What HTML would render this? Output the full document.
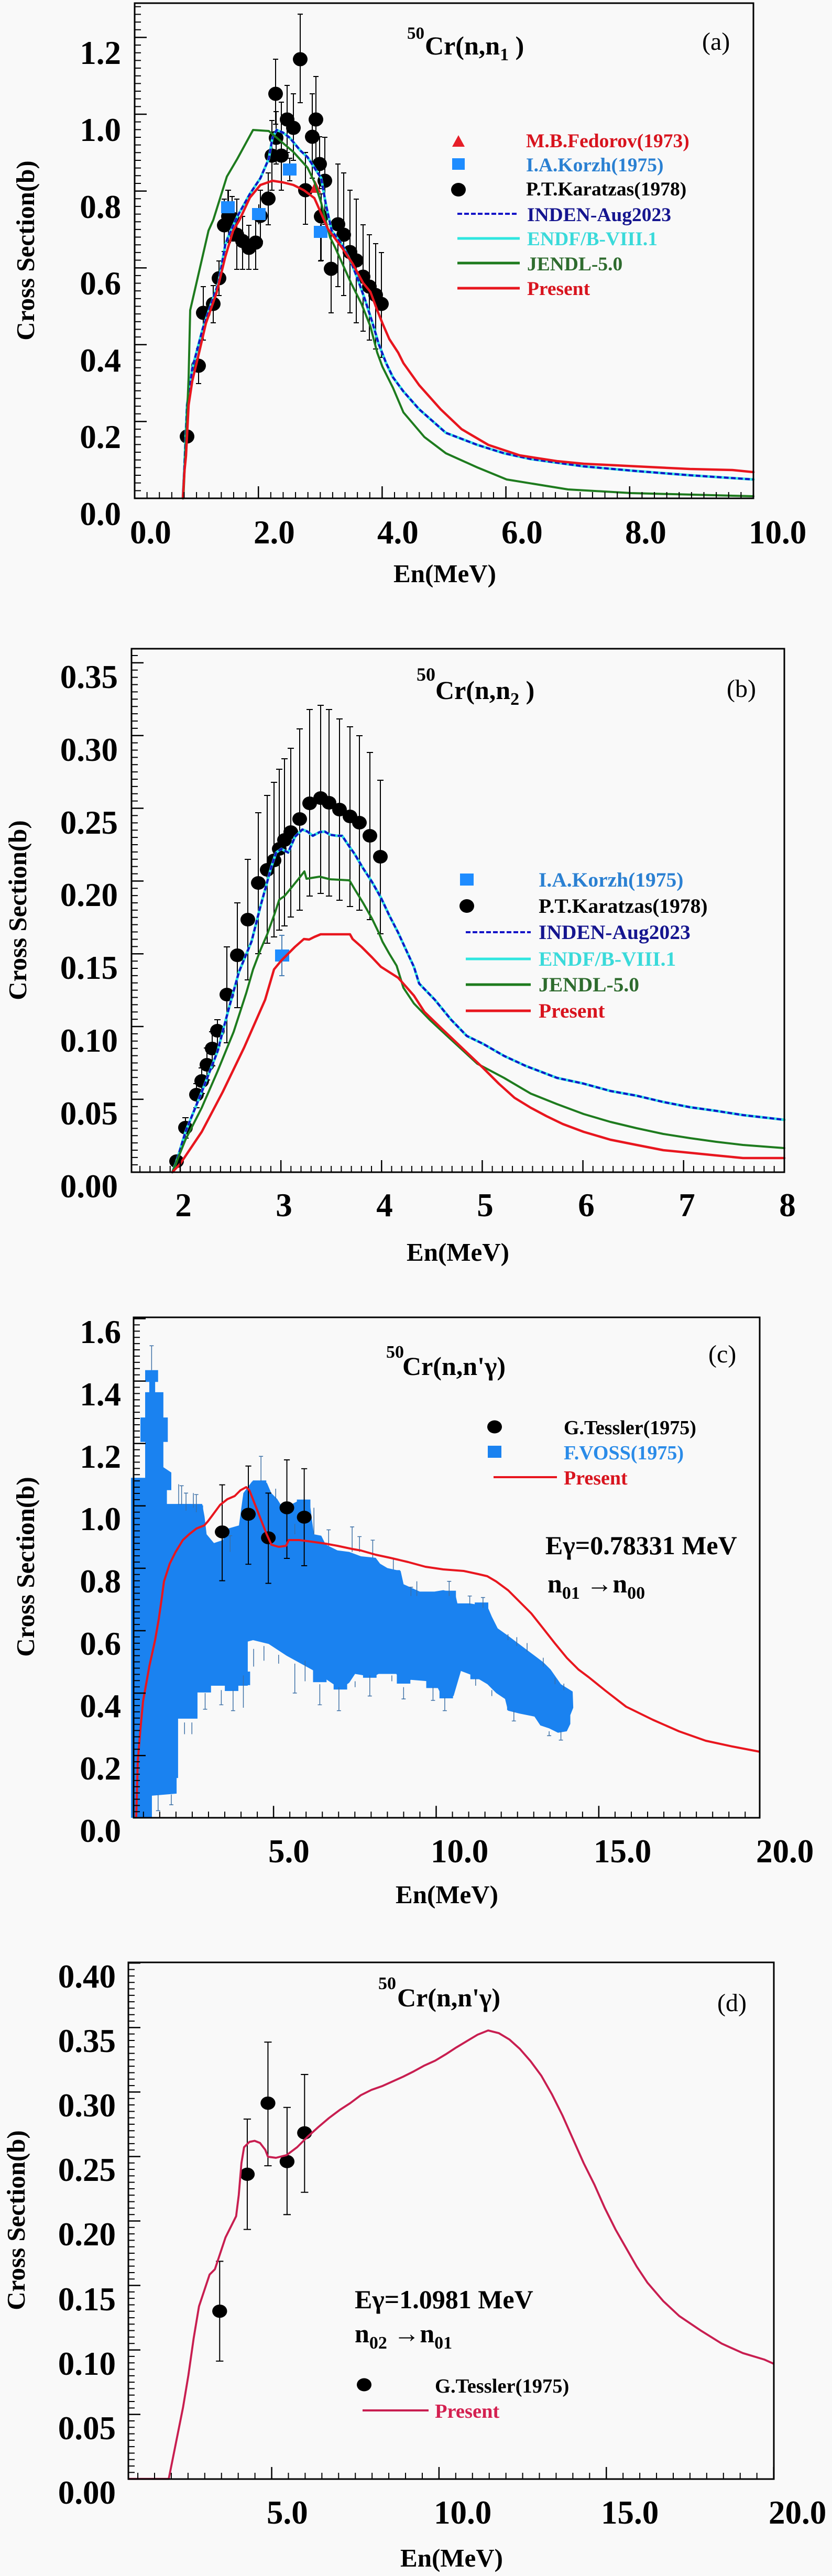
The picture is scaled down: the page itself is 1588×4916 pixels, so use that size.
<!DOCTYPE html>
<html><head><meta charset="utf-8"><style>
html,body{margin:0;padding:0;background:#f9f9f9;}
svg{display:block;}
text{font-family:"Liberation Serif","DejaVu Serif",serif;font-weight:bold;}
</style></head><body>
<svg width="1588" height="4916" viewBox="0 0 1588 4916" xmlns="http://www.w3.org/2000/svg">
<rect width="1588" height="4916" fill="#f9f9f9"/>

<!-- ================= PANEL (a) ================= -->
<g stroke="#000" stroke-width="2" fill="none">
<path d="M379,665V732M374,665h10M374,732h10M388,547V649M383,547h10M383,649h10M407,545V616M402,545h10M402,616h10M418,498V564M413,498h10M413,564h10M428,380V480M423,380h10M423,480h10M436,363V463M431,363h10M431,463h10M443,375V460M438,375h10M438,460h10M452,380V514M447,380h10M447,514h10M463,413V514M458,413h10M458,514h10M475,430V514M470,430h10M470,514h10M488,413V514M483,413h10M483,514h10M497,363V460M492,363h10M492,460h10M512,330V429M507,330h10M507,429h10M519,230V363M514,230h10M514,363h10M527,213V313M522,213h10M522,313h10M537,195V363M532,195h10M532,363h10M526,113V237M521,113h10M521,237h10M548,163V291M543,163h10M543,291h10M560,179V306M555,179h10M555,306h10M573,27V196M568,27h10M568,196h10M583,291V428M578,291h10M578,428h10M596,179V340M591,179h10M591,340h10M603,146V306M598,146h10M598,306h10M610,261V360M605,261h10M605,360h10M620,262V428M615,262h10M615,428h10M613,370V497M608,370h10M608,497h10M632,428V597M627,428h10M627,597h10M645,313V547M640,313h10M640,547h10M656,330V564M651,330h10M651,564h10M668,363V597M663,363h10M663,597h10M680,380V616M675,380h10M675,616h10M693,429V632M688,429h10M688,632h10M705,448V649M700,448h10M700,649h10M717,465V666M712,465h10M712,666h10M728,482V682M723,482h10M723,682h10"/>
<path d="M435,363V425M430,363h10M430,425h10M494,390V428M553,302V345M548,302h10M548,345h10M612,428V498M607,498h10"/>
</g>
<g fill="#000">
<ellipse cx="357" cy="833" rx="14" ry="13.5"/><ellipse cx="379" cy="698" rx="14" ry="13.5"/><ellipse cx="388" cy="597" rx="14" ry="13.5"/><ellipse cx="407" cy="580" rx="14" ry="13.5"/><ellipse cx="418" cy="531" rx="14" ry="13.5"/><ellipse cx="428" cy="430" rx="14" ry="13.5"/><ellipse cx="436" cy="413" rx="14" ry="13.5"/><ellipse cx="443" cy="417" rx="14" ry="13.5"/><ellipse cx="452" cy="448" rx="14" ry="13.5"/><ellipse cx="463" cy="460" rx="14" ry="13.5"/><ellipse cx="475" cy="473" rx="14" ry="13.5"/><ellipse cx="488" cy="463" rx="14" ry="13.5"/><ellipse cx="497" cy="412" rx="14" ry="13.5"/><ellipse cx="512" cy="379" rx="14" ry="13.5"/><ellipse cx="519" cy="297" rx="14" ry="13.5"/><ellipse cx="527" cy="263" rx="14" ry="13.5"/><ellipse cx="537" cy="297" rx="14" ry="13.5"/><ellipse cx="526" cy="179" rx="14" ry="13.5"/><ellipse cx="548" cy="228" rx="14" ry="13.5"/><ellipse cx="560" cy="244" rx="14" ry="13.5"/><ellipse cx="573" cy="113" rx="14" ry="13.5"/><ellipse cx="583" cy="363" rx="14" ry="13.5"/><ellipse cx="596" cy="261" rx="14" ry="13.5"/><ellipse cx="603" cy="228" rx="14" ry="13.5"/><ellipse cx="610" cy="313" rx="14" ry="13.5"/><ellipse cx="620" cy="345" rx="14" ry="13.5"/><ellipse cx="613" cy="413" rx="14" ry="13.5"/><ellipse cx="632" cy="513" rx="14" ry="13.5"/><ellipse cx="645" cy="428" rx="14" ry="13.5"/><ellipse cx="656" cy="448" rx="14" ry="13.5"/><ellipse cx="668" cy="481" rx="14" ry="13.5"/><ellipse cx="680" cy="497" rx="14" ry="13.5"/><ellipse cx="693" cy="528" rx="14" ry="13.5"/><ellipse cx="705" cy="547" rx="14" ry="13.5"/><ellipse cx="717" cy="563" rx="14" ry="13.5"/><ellipse cx="728" cy="580" rx="14" ry="13.5"/>
</g>
<g fill="#1e8cff">
<rect x="422" y="384" width="26" height="23"/><rect x="481" y="397" width="26" height="23"/><rect x="540" y="312" width="26" height="23"/><rect x="599" y="431" width="26" height="23"/>
</g>
<polygon points="591,368 613,368 602,345" fill="#e61e28"/>
<g fill="none" stroke-linejoin="round" stroke-linecap="round">
<path stroke="#2fe6e0" stroke-width="5" d="M349,951 L352,890 L357,773 L367,703 L387,627 L403,580 L417,540 L430,467 L435,453 L453,413 L477,370 L497,340 L513,303 L520,263 L528,248 L540,253 L553,263 L573,287 L587,300 L600,320 L613,340 L622,390 L633,440 L653,467 L670,500 L683,533 L697,573 L710,613 L723,657 L737,693 L750,720 L770,747 L800,781 L851,826 L911,849 L962,865 L1013,876 L1114,890 L1215,899 L1317,907 L1438,915"/>
<path stroke="#1414c8" stroke-width="4" stroke-dasharray="9 4.5" stroke-linecap="butt" d="M349,951 L352,890 L357,773 L367,703 L387,627 L403,580 L417,540 L430,467 L435,453 L453,413 L477,370 L497,340 L513,303 L520,263 L528,248 L540,253 L553,263 L573,287 L587,300 L600,320 L613,340 L622,390 L633,440 L653,467 L670,500 L683,533 L697,573 L710,613 L723,657 L737,693 L750,720 L770,747 L800,781 L851,826 L911,849 L962,865 L1013,876 L1114,890 L1215,899 L1317,907 L1438,915"/>
<path stroke="#1e7b1e" stroke-width="4" d="M350,951 L355,840 L360,720 L363,592 L375,540 L398,440 L407,420 L433,337 L453,303 L483,248 L513,250 L533,267 L560,290 L587,320 L600,347 L613,387 L630,453 L640,473 L670,540 L690,580 L707,623 L720,673 L730,700 L750,740 L770,787 L810,834 L851,865 L911,892 L967,915 L1084,934 L1205,941 L1438,947"/>
<path stroke="#e8161e" stroke-width="4.5" d="M349,951 L352,900 L355,870 L360,773 L367,727 L380,673 L393,617 L413,560 L430,490 L445,440 L457,420 L477,377 L497,353 L520,345 L540,348 L560,353 L580,363 L600,378 L612,405 L626,437 L653,473 L673,503 L693,540 L707,557 L720,592 L730,617 L743,647 L760,673 L770,693 L800,735 L841,781 L881,819 L932,849 L992,869 L1063,880 L1114,885 L1215,890 L1317,895 L1398,897 L1438,901"/>
</g>
<g stroke="#000" fill="none">
<path d="M263,952V6" stroke-width="12" stroke-dasharray="2 12.66"/>
<path d="M268.5,952.25V6" stroke-width="23" stroke-dasharray="2.5 144.1"/>
<path d="M256,945H1438" stroke-width="12" stroke-dasharray="2 21.62"/>
<path d="M255.75,939.5H1440" stroke-width="23" stroke-dasharray="2.5 233.7"/>
<rect x="257" y="6" width="1181" height="945" stroke-width="3"/>
</g>
<g font-size="63" text-anchor="end">
<text x="231" y="1002">0.0</text><text x="231" y="855">0.2</text><text x="231" y="709">0.4</text><text x="231" y="562">0.6</text><text x="231" y="416">0.8</text><text x="231" y="269">1.0</text><text x="231" y="122">1.2</text>
</g>
<g font-size="63">
<text x="248" y="1037">0.0</text><text x="484" y="1037">2.0</text><text x="720" y="1037">4.0</text><text x="957" y="1037">6.0</text><text x="1193" y="1037">8.0</text><text x="1429" y="1037">10.0</text>
</g>
<text x="849" y="1111" font-size="49" text-anchor="middle">En(MeV)</text>
<text transform="translate(65,478) rotate(-90)" font-size="49" text-anchor="middle">Cross Section(b)</text>
<text x="777" y="74" font-size="33">50</text>
<text x="811" y="104" font-size="50">Cr(n,n<tspan font-size="34" dy="11">1</tspan><tspan dy="-11">&#160;)</tspan></text>
<text x="1340" y="95" font-size="48" style="font-weight:normal">(a)</text>
<!-- legend a -->
<polygon points="863,280 887,280 875,258" fill="#e61e28"/>
<rect x="863" y="302" width="24" height="22" fill="#1e8cff"/>
<ellipse cx="875" cy="362" rx="14" ry="13" fill="#000"/>
<path d="M873,408H988" stroke="#1414c8" stroke-width="4" stroke-dasharray="9 4"/>
<path d="M873,455H992" stroke="#2fe6e0" stroke-width="5"/>
<path d="M873,502H992" stroke="#1e7b1e" stroke-width="5"/>
<path d="M873,550H992" stroke="#e8161e" stroke-width="5"/>
<g font-size="37.5">
<text x="1004" y="281" fill="#d8141e">M.B.Fedorov(1973)</text>
<text x="1004" y="327" fill="#2a80d2">I.A.Korzh(1975)</text>
<text x="1004" y="373" fill="#000">P.T.Karatzas(1978)</text>
<text x="1006" y="422" fill="#15158f">INDEN-Aug2023</text>
<text x="1006" y="468" fill="#3adada">ENDF/B-VIII.1</text>
<text x="1006" y="516" fill="#2e6b2e">JENDL-5.0</text>
<text x="1006" y="563" fill="#d8141e">Present</text>
</g>

<!-- ================= PANEL (b) ================= -->
<g stroke="#000" stroke-width="2" fill="none">
<path d="M354,2133V2172M348,2133h12M348,2172h12M375,2068V2114M369,2068h12M369,2114h12M385,2038V2087M379,2038h12M379,2087h12M395,2000V2061M389,2000h12M389,2061h12M405,1969V2034M399,1969h12M399,2034h12M415,1946V1996M409,1946h12M409,1996h12M433,1807V1990M427,1807h12M427,1990h12M453,1723V1923M447,1723h12M447,1923h12M473,1640V1870M467,1640h12M467,1870h12M493,1551V1820M487,1551h12M487,1820h12M510,1518V1800M504,1518h12M504,1800h12M523,1493V1788M517,1493h12M517,1788h12M533,1468V1775M527,1468h12M527,1775h12M543,1448V1767M537,1448h12M537,1767h12M555,1428V1750M549,1428h12M549,1750h12M572,1391V1737M566,1391h12M566,1737h12M591,1354V1710M585,1354h12M585,1710h12M612,1346V1705M606,1346h12M606,1705h12M628,1354V1710M622,1354h12M622,1710h12M648,1372V1718M642,1372h12M642,1718h12M668,1387V1730M662,1387h12M662,1730h12M686,1404V1737M680,1404h12M680,1737h12M706,1436V1755M700,1436h12M700,1755h12M726,1489V1782M720,1489h12M720,1782h12"/>
<path stroke="#4a7fb5" d="M538,1785V1862M533,1785h10M533,1862h10"/>
</g>
<g fill="#000">
<ellipse cx="337" cy="2216" rx="14" ry="13"/><ellipse cx="354" cy="2152" rx="14" ry="13"/><ellipse cx="375" cy="2089" rx="14" ry="13"/><ellipse cx="385" cy="2063" rx="14" ry="13"/><ellipse cx="395" cy="2032" rx="14" ry="13"/><ellipse cx="405" cy="2001" rx="14" ry="13"/><ellipse cx="415" cy="1967" rx="14" ry="13"/><ellipse cx="433" cy="1898" rx="14" ry="13"/><ellipse cx="453" cy="1823" rx="14" ry="13"/><ellipse cx="473" cy="1755" rx="14" ry="13"/><ellipse cx="493" cy="1685" rx="14" ry="13"/><ellipse cx="510" cy="1660" rx="14" ry="13"/><ellipse cx="523" cy="1642" rx="14" ry="13"/><ellipse cx="533" cy="1620" rx="14" ry="13"/><ellipse cx="543" cy="1603" rx="14" ry="13"/><ellipse cx="555" cy="1588" rx="14" ry="13"/><ellipse cx="572" cy="1563" rx="14" ry="13"/><ellipse cx="591" cy="1533" rx="14" ry="13"/><ellipse cx="612" cy="1523" rx="14" ry="13"/><ellipse cx="628" cy="1532" rx="14" ry="13"/><ellipse cx="648" cy="1545" rx="14" ry="13"/><ellipse cx="668" cy="1558" rx="14" ry="13"/><ellipse cx="686" cy="1570" rx="14" ry="13"/><ellipse cx="706" cy="1595" rx="14" ry="13"/><ellipse cx="726" cy="1635" rx="14" ry="13"/>
</g>
<rect x="525" y="1812" width="27" height="23" fill="#1e8cff"/>
<g fill="none" stroke-linejoin="round" stroke-linecap="round">
<path stroke="#2fe6e0" stroke-width="5" d="M329,2237 L337,2216 L354,2160 L385,2084 L415,2007 L435,1931 L456,1855 L480,1797 L497,1730 L510,1683 L517,1657 L527,1627 L537,1620 L550,1627 L563,1597 L577,1583 L587,1587 L597,1595 L610,1588 L620,1587 L630,1593 L643,1595 L653,1595 L663,1610 L677,1630 L693,1657 L710,1683 L727,1713 L743,1747 L760,1780 L777,1817 L790,1845 L800,1877 L830,1908 L861,1946 L891,1977 L922,1992 L962,2015 L1003,2034 L1063,2057 L1114,2068 L1165,2082 L1215,2091 L1266,2103 L1317,2113 L1367,2120 L1418,2128 L1497,2137"/>
<path stroke="#1414c8" stroke-width="4" stroke-dasharray="9 4.5" stroke-linecap="butt" d="M329,2237 L337,2216 L354,2160 L385,2084 L415,2007 L435,1931 L456,1855 L480,1797 L497,1730 L510,1683 L517,1657 L527,1627 L537,1620 L550,1627 L563,1597 L577,1583 L587,1587 L597,1595 L610,1588 L620,1587 L630,1593 L643,1595 L653,1595 L663,1610 L677,1630 L693,1657 L710,1683 L727,1713 L743,1747 L760,1780 L777,1817 L790,1845 L800,1877 L830,1908 L861,1946 L891,1977 L922,1992 L962,2015 L1003,2034 L1063,2057 L1114,2068 L1165,2082 L1215,2091 L1266,2103 L1317,2113 L1367,2120 L1418,2128 L1497,2137"/>
<path stroke="#1e7b1e" stroke-width="4" d="M329,2237 L354,2175 L385,2114 L415,2045 L446,1969 L470,1895 L483,1850 L497,1813 L510,1783 L523,1747 L533,1717 L543,1710 L557,1693 L570,1677 L581,1663 L585,1677 L610,1673 L630,1678 L667,1680 L677,1697 L693,1723 L710,1753 L723,1780 L730,1797 L743,1820 L757,1843 L770,1885 L790,1915 L820,1946 L861,1984 L911,2030 L962,2057 L1013,2087 L1063,2107 L1114,2126 L1165,2141 L1215,2153 L1266,2164 L1317,2172 L1367,2179 L1418,2185 L1497,2191"/>
<path stroke="#e8161e" stroke-width="4.5" d="M329,2237 L344,2221 L385,2160 L425,2084 L466,1999 L506,1908 L523,1850 L537,1833 L550,1820 L563,1807 L580,1792 L590,1793 L600,1788 L612,1783 L668,1783 L673,1792 L690,1807 L710,1827 L727,1845 L760,1866 L790,1900 L810,1931 L841,1961 L881,1999 L922,2038 L952,2068 L982,2095 L1013,2114 L1043,2130 L1074,2145 L1114,2160 L1165,2175 L1215,2185 L1266,2195 L1317,2200 L1367,2205 L1418,2210 L1497,2210"/>
</g>
<g stroke="#000" fill="none">
<path d="M257,2237.7V1238" stroke-width="12" stroke-dasharray="2 11.883"/>
<path d="M262.5,2237.95V1238" stroke-width="23" stroke-dasharray="2.5 136.33"/>
<path d="M266.1,2231H1497" stroke-width="12" stroke-dasharray="2 17.215"/>
<path d="M342.75,2225.5H1499" stroke-width="23" stroke-dasharray="2.5 189.65"/>
<rect x="251" y="1238" width="1246" height="999" stroke-width="3"/>
</g>
<g font-size="63" text-anchor="end">
<text x="225" y="2285">0.00</text><text x="225" y="2146">0.05</text><text x="225" y="2007">0.10</text><text x="225" y="1868">0.15</text><text x="225" y="1729">0.20</text><text x="225" y="1591">0.25</text><text x="225" y="1452">0.30</text><text x="225" y="1313">0.35</text>
</g>
<g font-size="63" text-anchor="middle">
<text x="350" y="2321">2</text><text x="542" y="2321">3</text><text x="734" y="2321">4</text><text x="926" y="2321">5</text><text x="1119" y="2321">6</text><text x="1311" y="2321">7</text><text x="1503" y="2321">8</text>
</g>
<text x="874" y="2406" font-size="49" text-anchor="middle">En(MeV)</text>
<text transform="translate(50,1737) rotate(-90)" font-size="49" text-anchor="middle">Cross Section(b)</text>
<text x="795" y="1299" font-size="36">50</text>
<text x="831" y="1334" font-size="50">Cr(n,n<tspan font-size="34" dy="11">2</tspan><tspan dy="-11">&#160;)</tspan></text>
<text x="1387" y="1330" font-size="48" style="font-weight:normal">(b)</text>
<rect x="878" y="1667" width="26" height="23" fill="#1e8cff"/>
<ellipse cx="891" cy="1729" rx="14" ry="13" fill="#000"/>
<path d="M889,1779H1013" stroke="#1414c8" stroke-width="4" stroke-dasharray="9 4"/>
<path d="M889,1830H1013" stroke="#2fe6e0" stroke-width="5"/>
<path d="M889,1879H1013" stroke="#1e7b1e" stroke-width="5"/>
<path d="M889,1929H1013" stroke="#e8161e" stroke-width="5"/>
<g font-size="39.5">
<text x="1028" y="1692" fill="#2a80d2">I.A.Korzh(1975)</text>
<text x="1028" y="1742" fill="#000">P.T.Karatzas(1978)</text>
<text x="1028" y="1792" fill="#15158f">INDEN-Aug2023</text>
<text x="1028" y="1843" fill="#3adada">ENDF/B-VIII.1</text>
<text x="1028" y="1892" fill="#2e6b2e">JENDL-5.0</text>
<text x="1028" y="1942" fill="#d8141e">Present</text>
</g>

<!-- ================= PANEL (c) ================= -->
<g transform="matrix(0.5612,0,0,0.5612,240,2580)">
<polygon fill="#1a82f0" points="18,470 18,428 66,428 66,306 50,306 50,223 66,223 66,137 80,137 80,102 66,102 66,62 110,62 110,102 100,102 100,137 128,137 128,223 143,223 143,306 128,306 128,392 155,410 155,470 140,470 140,517 260,517 268,560 275,620 300,650 330,640 350,600 385,590 400,480 430,440 480,445 495,480 515,500 540,540 560,520 590,505 625,505 632,560 640,620 665,625 680,655 720,675 760,680 800,695 850,700 865,720 890,735 935,745 945,790 1000,815 1050,815 1080,810 1120,820 1128,855 1170,855 1230,865 1245,900 1265,940 1300,965 1340,995 1380,1025 1420,1055 1445,1080 1480,1130 1520,1155 1522,1210 1512,1235 1512,1265 1500,1290 1470,1295 1440,1280 1410,1270 1390,1240 1340,1230 1300,1220 1290,1180 1260,1160 1230,1130 1180,1100 1140,1085 1115,1170 1075,1170 1060,1140 1030,1120 970,1115 940,1125 920,1095 860,1095 840,1105 780,1095 760,1125 730,1146 636,1082 547,1033 486,993 433,980 415,985 415,1135 290,1135 290,1158 244,1158 244,1247 178,1247 178,1449 173,1449 173,1502 89,1509 89,1584 18,1584"/>
<g fill="#1a82f0">
<rect x="337" y="1107" width="46" height="46"/><rect x="377" y="1087" width="46" height="46"/><rect x="637" y="1077" width="46" height="46"/><rect x="707" y="1102" width="46" height="46"/><rect x="807" y="1062" width="46" height="46"/><rect x="922" y="1082" width="46" height="46"/><rect x="1022" y="1097" width="46" height="46"/><rect x="1067" y="1132" width="46" height="46"/><rect x="1172" y="1067" width="46" height="46"/><rect x="1297" y="1172" width="46" height="46"/><rect x="1447" y="1227" width="46" height="46"/><rect x="1417" y="1212" width="46" height="46"/><rect x="1467" y="1167" width="46" height="46"/><rect x="432" y="437" width="46" height="46"/><rect x="582" y="502" width="46" height="46"/><rect x="887" y="742" width="46" height="46"/><rect x="1077" y="812" width="46" height="46"/><rect x="1187" y="852" width="46" height="46"/><rect x="177" y="517" width="46" height="46"/><rect x="217" y="522" width="46" height="46"/>
</g>
<path fill="none" stroke="#3a6ea5" stroke-width="2.6" d="M190,455V520M205,480V540M240,485V545M355,625V680M460,355V440M510,465V500M690,605V660M770,595V680M795,628V680M840,640V700M910,700V740M970,800V830M990,780V830M1100,780V830M1170,830V860M1215,835V870M1300,960V980M1330,970V1000M1365,990V1020M1420,1040V1070M1460,1108V1130M1490,1128V1150M88,-21V62M81,-21h14M180,450V520M230,480V530M640,530V620M575,585V620M270,1160V1215M325,1150V1200M365,1150V1220M400,1100V1210M435,1010V1070M470,1000V1050M520,1030V1060M575,1060V1160M610,1050V1120M660,1130V1200M725,1140V1220M780,1120V1140M830,1100V1170M905,1100V1120M945,1140V1180M1045,1140V1185M1085,1175V1220M1190,1110V1135M1245,1150V1170M1320,1220V1255M1440,1290V1305M1480,1290V1320M200,1260V1300M225,1260V1300M110,1505V1560M155,1505V1540M183,455h14M198,480h14M233,485h14M348,625h14M453,355h14M683,605h14M763,595h14M788,628h14M833,640h14M963,800h14M1093,780h14M1163,830h14M1208,835h14M263,1215h14M318,1200h14M358,1220h14M568,1160h14M653,1200h14M718,1220h14M823,1170h14M938,1180h14M1038,1185h14M1078,1220h14M1313,1255h14M1433,1305h14M1473,1320h14M103,1560h14M148,1540h14"/>
<path fill="none" stroke="#000" stroke-width="3.5" d="M328,452V778M318,452h20M318,778h20M417,388V722M407,388h20M407,722h20M485,480V787M475,480h20M475,787h20M548,367V702M538,367h20M538,702h20M607,397V727M597,397h20M597,727h20"/>
<g fill="#000">
<ellipse cx="328" cy="612" rx="25" ry="22"/><ellipse cx="417" cy="552" rx="25" ry="22"/><ellipse cx="485" cy="632" rx="25" ry="22"/><ellipse cx="548" cy="530" rx="25" ry="22"/><ellipse cx="607" cy="562" rx="25" ry="22"/>
</g>
</g>
<path fill="none" stroke="#e8161e" stroke-width="4" stroke-linejoin="round" d="M260,3469 L263,3360 L268,3300 L273,3247 L285,3180 L296,3130 L303,3090 L308,3055 L313,3018 L324,2984 L335,2962 L349,2939 L361,2928 L375,2917 L390,2911 L397,2903 L406,2891 L420,2872 L434,2861 L448,2855 L459,2844 L470,2838 L476,2844 L487,2872 L498,2900 L509,2928 L518,2948 L532,2952 L546,2950 L551,2939 L571,2939 L594,2942 L622,2946 L644,2950 L672,2956 L689,2959 L717,2967 L745,2973 L779,2981 L812,2990 L846,2995 L885,2998 L913,3004 L930,3008 L947,3018 L970,3035 L992,3057 L1014,3079 L1037,3108 L1059,3136 L1082,3164 L1104,3186 L1124,3201 L1155,3226 L1195,3257 L1246,3282 L1296,3304 L1347,3322 L1398,3333 L1450,3343"/>
<g stroke="#000" fill="none">
<path d="M261,3470.3V2514" stroke-width="12" stroke-dasharray="2 9.91"/>
<path d="M266.5,3470.55V2514" stroke-width="23" stroke-dasharray="2.5 116.6"/>
<path d="M272.8,3463.3H1450" stroke-width="12" stroke-dasharray="2 29.04"/>
<path d="M520.85,3457.8H1452" stroke-width="23" stroke-dasharray="2.5 307.9"/>
<rect x="255" y="2514" width="1195" height="955" stroke-width="3"/>
</g>
<g font-size="63" text-anchor="end">
<text x="231" y="3515">0.0</text><text x="231" y="3396">0.2</text><text x="231" y="3277">0.4</text><text x="231" y="3158">0.6</text><text x="231" y="3039">0.8</text><text x="231" y="2920">1.0</text><text x="231" y="2801">1.2</text><text x="231" y="2682">1.4</text><text x="231" y="2563">1.6</text>
</g>
<g font-size="63">
<text x="512" y="3554">5.0</text><text x="822" y="3554">10.0</text><text x="1133" y="3554">15.0</text><text x="1443" y="3554">20.0</text>
</g>
<text x="853" y="3632" font-size="49" text-anchor="middle">En(MeV)</text>
<text transform="translate(65,2990) rotate(-90)" font-size="49" text-anchor="middle">Cross Section(b)</text>
<text x="737" y="2591" font-size="34">50</text>
<text x="768" y="2624" font-size="50">Cr(n,n'γ)</text>
<text x="1352" y="2600" font-size="48" style="font-weight:normal">(c)</text>
<ellipse cx="944" cy="2723" rx="14" ry="12.5" fill="#000"/>
<rect x="931" y="2759" width="26" height="23" fill="#1a82f0"/>
<path d="M942,2819H1063" stroke="#e8161e" stroke-width="4"/>
<g font-size="38">
<text x="1076" y="2737" fill="#000">G.Tessler(1975)</text>
<text x="1076" y="2785" fill="#2a8be8">F.VOSS(1975)</text>
<text x="1076" y="2833" fill="#d8141e">Present</text>
</g>
<text x="1041" y="2966" font-size="50">Eγ=0.78331 MeV</text>
<text x="1045" y="3039" font-size="50">n<tspan font-size="34" dy="12">01</tspan><tspan dy="-12">&#160;→n</tspan><tspan font-size="34" dy="12">00</tspan></text>

<!-- ================= PANEL (d) ================= -->
<g transform="matrix(1.01275,0,0,1.01275,0,3328)">
<path fill="none" stroke="#000" stroke-width="2" d="M414,975V1163M407,975h14M407,1163h14M466,707V915M459,707h14M459,915h14M505,562V795M498,562h14M498,795h14M541,685V887M534,685h14M534,887h14M574,623V845M567,623h14M567,845h14"/>
<g fill="#000">
<ellipse cx="414" cy="1069" rx="14" ry="12.5"/><ellipse cx="466" cy="811" rx="14" ry="12.5"/><ellipse cx="505" cy="677" rx="14" ry="12.5"/><ellipse cx="541" cy="787" rx="14" ry="12.5"/><ellipse cx="574" cy="733" rx="14" ry="12.5"/>
</g>
<path fill="none" stroke="#c81e50" stroke-width="3.8" stroke-linejoin="round" d="M242,1385 L318,1385 L325,1350 L335,1300 L345,1250 L355,1190 L365,1120 L375,1060 L385,1030 L395,1000 L405,990 L415,960 L425,930 L435,910 L445,890 L450,850 L455,790 L460,760 L470,750 L480,748 L490,752 L500,765 L505,778 L520,780 L540,775 L560,760 L580,740 L600,722 L620,705 L640,690 L660,677 L680,662 L700,652 L720,645 L740,636 L760,627 L780,617 L800,606 L820,597 L840,585 L860,572 L880,560 L900,548 L920,540 L940,545 L960,557 L980,575 L1000,598 L1020,625 L1040,660 L1060,700 L1080,745 L1100,790 L1120,830 L1140,875 L1160,915 L1180,950 L1200,985 L1220,1015 L1250,1050 L1280,1078 L1320,1105 L1360,1130 L1400,1148 L1440,1160 L1458,1168"/>
</g>
<g stroke="#000" fill="none">
<path d="M251,4731.7V3745" stroke-width="12" stroke-dasharray="2 10.305"/>
<path d="M256.5,4731.95V3745" stroke-width="23" stroke-dasharray="2.5 120.55"/>
<path d="M262.07,4725H1477" stroke-width="12" stroke-dasharray="2 29.935"/>
<path d="M517.3,4719.5H1479" stroke-width="23" stroke-dasharray="2.5 316.85"/>
<rect x="245" y="3745" width="1232" height="986" stroke-width="3"/>
</g>
<g font-size="63" text-anchor="end">
<text x="221" y="4778">0.00</text><text x="221" y="4655">0.05</text><text x="221" y="4532">0.10</text><text x="221" y="4409">0.15</text><text x="221" y="4285">0.20</text><text x="221" y="4162">0.25</text><text x="221" y="4039">0.30</text><text x="221" y="3916">0.35</text><text x="221" y="3793">0.40</text>
</g>
<g font-size="63">
<text x="509" y="4816">5.0</text><text x="828" y="4816">10.0</text><text x="1147" y="4816">15.0</text><text x="1467" y="4816">20.0</text>
</g>
<text x="862" y="4898" font-size="49" text-anchor="middle">En(MeV)</text>
<text transform="translate(47,4237) rotate(-90)" font-size="49" text-anchor="middle">Cross Section(b)</text>
<text x="722" y="3796" font-size="34">50</text>
<text x="758" y="3829" font-size="50">Cr(n,n'γ)</text>
<text x="1369" y="3838" font-size="48" style="font-weight:normal">(d)</text>
<text x="677" y="4405" font-size="50">Eγ=1.0981 MeV</text>
<text x="677" y="4470" font-size="50">n<tspan font-size="34" dy="12">02</tspan><tspan dy="-12">&#160;→n</tspan><tspan font-size="34" dy="12">01</tspan></text>
<ellipse cx="695" cy="4551" rx="14" ry="12.5" fill="#000"/>
<path d="M692,4600H818" stroke="#c81e50" stroke-width="4"/>
<text x="830" y="4566" font-size="38.5" fill="#000">G.Tessler(1975)</text>
<text x="830" y="4614" font-size="38.5" fill="#d42050">Present</text>
</svg>
</body></html>
